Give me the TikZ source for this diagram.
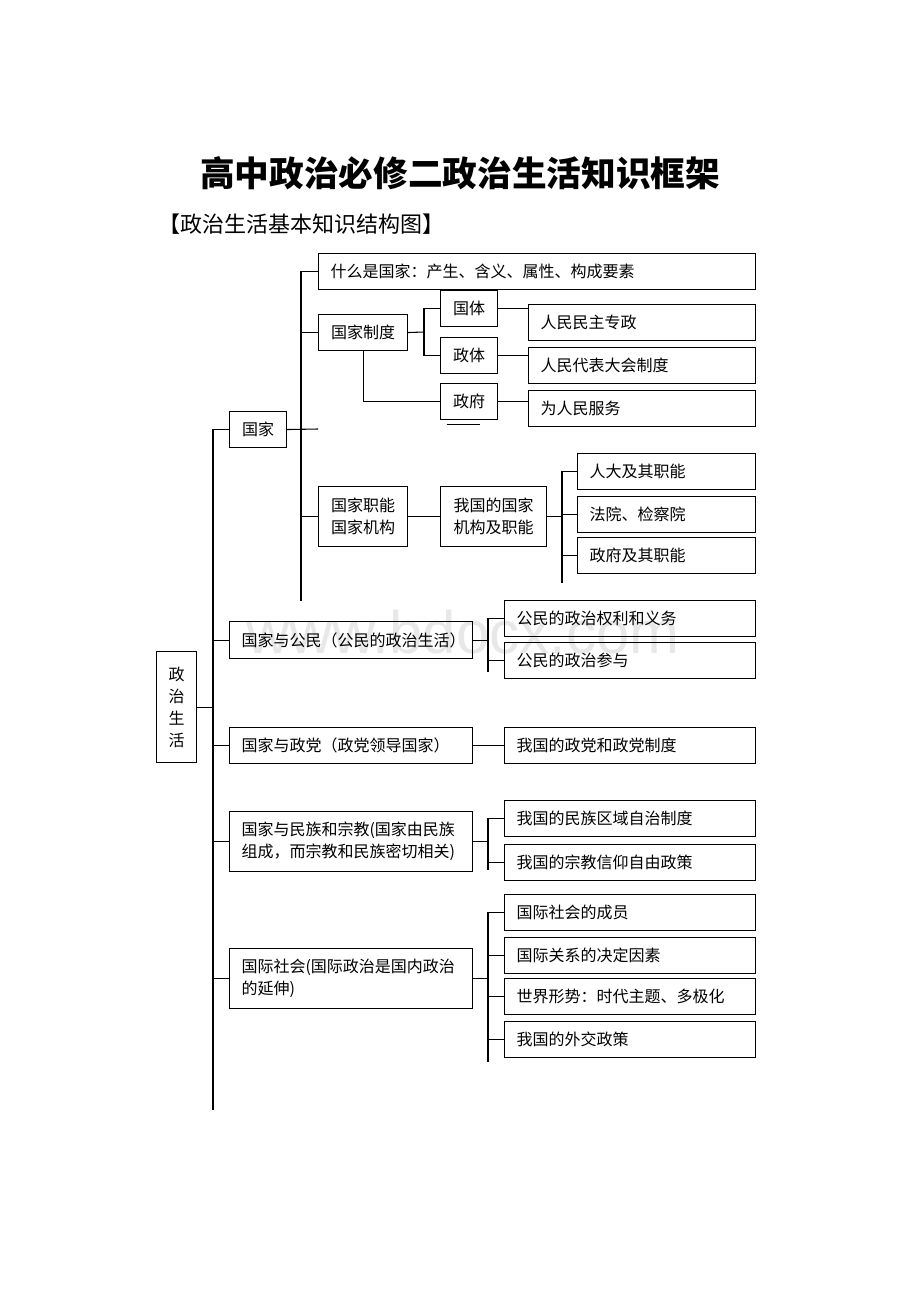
\documentclass[tikz,border=0pt]{standalone}
\usepackage{fontspec}
\setmainfont{Noto Sans CJK SC}
\newfontfamily\wmfont{Liberation Sans}
\usetikzlibrary{positioning}
\newcommand\bxfont{\fontsize{12}{16.5}\selectfont}

\tikzset{
  box/.style={draw, line width=0.8pt, anchor=north west, align=left,
    inner xsep=9pt, inner ysep=0pt, minimum height=27pt, font=\bxfont},
  wide/.style={box, text width=309.75pt},
  colA/.style={box, text width=152.25pt},
  colB/.style={box, text width=115.5pt},
  colC/.style={box, text width=170.25pt},
  mid/.style={box, text width=164.25pt},
  sbox/.style={draw, line width=0.8pt, anchor=north west, align=center,
    inner sep=0pt, minimum width=42.75pt, minimum height=27pt, font=\bxfont},
  link/.style={line width=0.8pt}
}

\begin{document}
\begin{tikzpicture}[x=0.75pt, y=-0.75pt]
\useasboundingbox (0,0) rectangle (920,1302);
\node[anchor=base west, inner sep=0pt, text=black!9, font=\wmfont\fontsize{45}{45}\selectfont] (wm) at (246,653) {www.bdocx.com};

\node[font=\fontsize{26}{30}\selectfont\bfseries] (title) at (460,173) {高中政治必修二政治生活知识框架};
\node[anchor=west, inner sep=0pt, font=\fontsize{16.5}{20}\selectfont] (subt) at (158,224) {【政治生活基本知识结构图】};

% left column
\node[sbox, minimum width=30pt, minimum height=83.25pt] (zzsh) at (156,651) {政\\治\\生\\活};
\node[sbox] (guojia) at (229,411) {国家};
\node[mid, minimum height=27.75pt] (gmin) at (229,621) {国家与公民（公民的政治生活）};
\node[mid] (zhengdang) at (229,727) {国家与政党（政党领导国家）};
\node[mid, minimum height=45pt] (minzu) at (229,811) {国家与民族和宗教(国家由民族\\组成，而宗教和民族密切相关)};
\node[mid, minimum height=45pt] (gjsh) at (229,948) {国际社会(国际政治是国内政治\\的延伸)};

% state
\node[wide] (what) at (318,253) {什么是国家：产生、含义、属性、构成要素};
\node[sbox, minimum width=66.75pt] (sys) at (318,314) {国家制度};
\node[sbox] (guoti) at (440,290) {国体};
\node[sbox] (zhengti) at (440,337) {政体};
\node[sbox] (zhengfu) at (440,383) {政府};
\node[colA] (zhuanzheng) at (528,304) {人民民主专政};
\node[colA] (renda) at (528,347) {人民代表大会制度};
\node[colA] (fuwu) at (528,390) {为人民服务};
\node[sbox, minimum width=66.75pt, minimum height=45pt] (jigou) at (318,486) {国家职能\\国家机构};
\node[sbox, minimum width=79.5pt, minimum height=45pt] (wgjg) at (440,486) {我国的国家\\机构及职能};
\node[colB] (rdzn) at (577,453) {人大及其职能};
\node[colB] (fayuan) at (577,496) {法院、检察院};
\node[colB] (zfzn) at (577,537) {政府及其职能};

% right column
\node[colC] (quanli) at (504,600) {公民的政治权利和义务};
\node[colC] (canyu) at (504,642) {公民的政治参与};
\node[colC] (zdzd) at (504,727) {我国的政党和政党制度};
\node[colC] (qyzz) at (504,800) {我国的民族区域自治制度};
\node[colC] (zjxy) at (504,844) {我国的宗教信仰自由政策};
\node[colC] (chengyuan) at (504,894) {国际社会的成员};
\node[colC] (yinsu) at (504,937) {国际关系的决定因素};
\node[colC] (xingshi) at (504,978) {世界形势：时代主题、多极化};
\node[colC] (waijiao) at (504,1021) {我国的外交政策};

% main spine
\coordinate (sTop) at (213,429);
\coordinate (sBot) at (213,1110);
\draw[link] (sTop) -- (sBot);
\foreach \n in {guojia,gmin,zhengdang,minzu,gjsh}
  \draw[link] (\n.west) -- (\n.west -| sTop);
\draw[link] (zzsh.east) -- (zzsh.east -| sTop);

% state spine
\coordinate (gTop) at (301,271);
\coordinate (gBot) at (301,601);
\coordinate (gEnd) at (318,429);
\draw[link] (gTop) -- (gBot);
\foreach \n in {what,sys,jigou}
  \draw[link] (\n.west) -- (\n.west -| gTop);
\draw[link] (guojia.east) -- (gEnd);

\coordinate (tBar) at (424,332);
\draw[link] (sys.east) -- (tBar);
\draw[link] (guoti.west) -- (guoti.west -| tBar) -- (zhengti.west -| tBar) -- (zhengti.west);
\draw[link] (sys.south) |- (zhengfu.west);
\draw[link] (guoti.east) -- (guoti.east -| zhuanzheng.west);
\draw[link] (zhengti.east) -- (zhengti.east -| renda.west);
\draw[link] (zhengfu.east) -- (zhengfu.east -| fuwu.west);
\draw[link] ([xshift=5pt,yshift=-3pt]zhengfu.south west) -- ([xshift=30pt,yshift=-3pt]zhengfu.south west);

\draw[link] (jigou.east) -- (wgjg.west);
\coordinate (jTop) at (562,471);
\coordinate (jBot) at (562,583);
\draw[link] (jTop) -- (jBot);
\draw[link] (wgjg.east) -- (wgjg.east -| jTop);
\foreach \n in {rdzn,fayuan,zfzn}
  \draw[link] (\n.west) -- (\n.west -| jTop);

% citizens, parties, nations, world
\coordinate (cTop) at (488,618);
\coordinate (cBot) at (488,672);
\draw[link] (cTop) -- (cBot);
\draw[link] (gmin.east) -- (gmin.east -| cTop);
\foreach \n in {quanli,canyu}
  \draw[link] (\n.west) -- (\n.west -| cTop);

\draw[link] (zhengdang.east) -- (zdzd.west);

\coordinate (mTop) at (488,818);
\coordinate (mBot) at (488,870);
\draw[link] (mTop) -- (mBot);
\draw[link] (minzu.east) -- (minzu.east -| mTop);
\foreach \n in {qyzz,zjxy}
  \draw[link] (\n.west) -- (\n.west -| mTop);

\coordinate (wTop) at (488,912);
\coordinate (wBot) at (488,1062);
\draw[link] (wTop) -- (wBot);
\draw[link] (gjsh.east) -- (gjsh.east -| wTop);
\foreach \n in {chengyuan,yinsu,xingshi,waijiao}
  \draw[link] (\n.west) -- (\n.west -| wTop);
\end{tikzpicture}
\end{document}
